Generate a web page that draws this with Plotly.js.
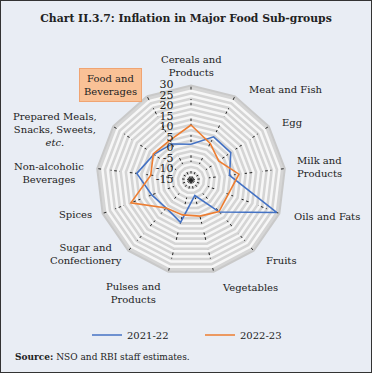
<!DOCTYPE html>
<html>
<head>
<meta charset="utf-8">
<script src="https://cdn.plot.ly/plotly-3.0.1.min.js"></script>
<style>
html,body{margin:0;padding:0;background:#e9edf4;}
#wrap{position:absolute;left:0;top:0;width:372px;height:373px;box-sizing:border-box;border:1px solid #333;background:#e9edf4;}
#chart{position:absolute;left:0;top:0;width:370px;height:371px;}
</style>
</head>
<body>
<div id="wrap"><div id="chart"></div></div>
<script>
// ---- data ----
const categories = ["Cereals and Products","Meat and Fish","Egg","Milk and Products","Oils and Fats","Fruits","Vegetables","Pulses and Products","Sugar and Confectionery","Spices","Non-alcoholic Beverages","Prepared Meals, Snacks, Sweets, etc.","Food and Beverages"];
const categoryLabels = ["Cereals and<br>Products","Meat and Fish","Egg","Milk and<br>Products","Oils and Fats","Fruits","Vegetables","Pulses and<br>Products","Sugar and<br>Confectionery","Spices","Non-alcoholic<br>Beverages","Prepared Meals,<br>Snacks, Sweets,<br><i>etc.</i>","Food and<br>Beverages"];
const series2021 = [2.0, 8.2, 8.0, 3.5, 28.6, 5.4, -7.4, 5.8, 2.8, 5.0, 11.0, 6.5, 4.4];
const series2022 = [11.2, 4.7, 1.0, 8.0, 4.0, 5.1, 2.7, 2.1, 2.8, 15.6, 4.3, 6.8, 6.4];
const seriesNames = ["2021-22","2022-23"];
const radialGridVals = [-15,-12.5,-10,-7.5,-5,-2.5,0,2.5,5,7.5,10,12.5,15,17.5,20,22.5,25,27.5,30];
const radialTickVals = [-15,-10,-5,0,5,10,15,20,25,30];
const radialTickText = ["-15","-10","-5","0","5","10","15","20","25","30"];
const radialRange = [-15, 30];

// ---- layout helpers (label placement, not data) ----
const W = 370, H = 371;
const serif = "DejaVu Serif, serif";
// label anchor in pixels: [x, y, xanchor, align]
const labelPlacement = [
  [190, 65, "center", "center"],
  [246, 89, "left", "left"],
  [279, 122, "left", "left"],
  [294, 166, "left", "left"],
  [291, 215, "left", "left"],
  [263, 259, "left", "left"],
  [219, 286, "left", "left"],
  [132, 292, "center", "center"],
  [85, 253, "center", "center"],
  [93, 214, "right", "right"],
  [48, 172, "center", "center"],
  [54, 129, "center", "center"],
  [109, 84, "center", "center"]
];
const highlightIndex = 12;
const NB = "\u00a0";
const polarDomain = {x:[95.5/W, 284.5/W], y:[1-273.5/H, 1-84.5/H]};

const close = a => a.concat([a[0]]);

const traces = [
  {type:"scatterpolar", r: close(series2021), theta: close(categories), mode:"lines",
   name: seriesNames[0], line:{color:"#4472c4", width:1.6}},
  {type:"scatterpolar", r: close(series2022), theta: close(categories), mode:"lines",
   name: seriesNames[1], line:{color:"#ed7d31", width:1.6}},
  // radial tick labels, placed on the first spoke through an overlaid polar's scales
  {type:"scatterpolar", subplot:"polar2", r: radialTickVals, theta: radialTickVals.map(() => categories[0]),
   mode:"text", text: radialTickText.map(t => t + NB + NB + NB + NB + NB), textposition:"middle left",
   textfont:{family: serif, size:11, color:"#222"}, showlegend:false, hoverinfo:"skip", cliponaxis:false}
];

const annotations = categoryLabels.map((t, i) => {
  const p = labelPlacement[i];
  const a = {text: t, xref:"paper", yref:"paper", x: p[0]/W, y: 1 - p[1]/H,
    xanchor: p[2], yanchor:"middle", align: p[3], showarrow:false,
    font:{family: serif, size:10, color:"#222"}};
  if (i === highlightIndex) {
    a.bgcolor = "#f9c196"; a.bordercolor = "#f0a472"; a.borderwidth = 1; a.borderpad = 4;
  }
  return a;
});
annotations.push({text:"<b>Source:</b> NSO and RBI staff estimates.", xref:"paper", yref:"paper",
  x:12/W, y:1-356/H, xanchor:"left", yanchor:"middle", showarrow:false,
  font:{family: serif, size:9, color:"#222"}});

const layout = {
  width: W, height: H,
  margin:{l:0,r:0,t:0,b:0},
  paper_bgcolor:"#e9edf4",
  font:{family: serif, color:"#222", size:10},
  title:{text:"<b>Chart II.3.7: Inflation in Major Food Sub-groups</b>", x:0.5, xanchor:"center",
         y: 1-17/H, yanchor:"middle", font:{family: serif, size:10.8, color:"#222"}},
  showlegend:true,
  legend:{orientation:"h", x:86/W, xanchor:"left", y:1-334/H, yanchor:"middle",
          entrywidth:68, entrywidthmode:"pixels",
          font:{family: serif, size:10, color:"#222"}, bgcolor:"rgba(0,0,0,0)"},
  polar:{
    domain: polarDomain,
    bgcolor:"#d5d5d5",
    gridshape:"linear",
    radialaxis:{range: radialRange, tickmode:"array", tickvals: radialGridVals,
                angle:90, showticklabels:false, showline:false, ticks:"",
                gridcolor:"#f7f7f7", gridwidth:2.5},
    angularaxis:{type:"category", rotation:90, direction:"clockwise",
                 categoryarray: categories, categoryorder:"array",
                 showticklabels:false,
                 gridcolor:"#222", griddash:"dash", gridwidth:1,
                 showline:true, linecolor:"#c9c9c9", linewidth:2, ticks:""}
  },
  polar2:{
    domain: polarDomain,
    bgcolor:"rgba(0,0,0,0)",
    gridshape:"circular",
    radialaxis:{range: radialRange, angle:90, showticklabels:false, showline:false, showgrid:false, ticks:""},
    angularaxis:{type:"category", rotation:90, direction:"clockwise",
                 categoryarray: categories, categoryorder:"array",
                 showticklabels:false, showline:false, showgrid:false, ticks:""}
  },
  annotations: annotations
};

Plotly.newPlot("chart", traces, layout, {displayModeBar:false, staticPlot:true});
</script>
</body>
</html>
